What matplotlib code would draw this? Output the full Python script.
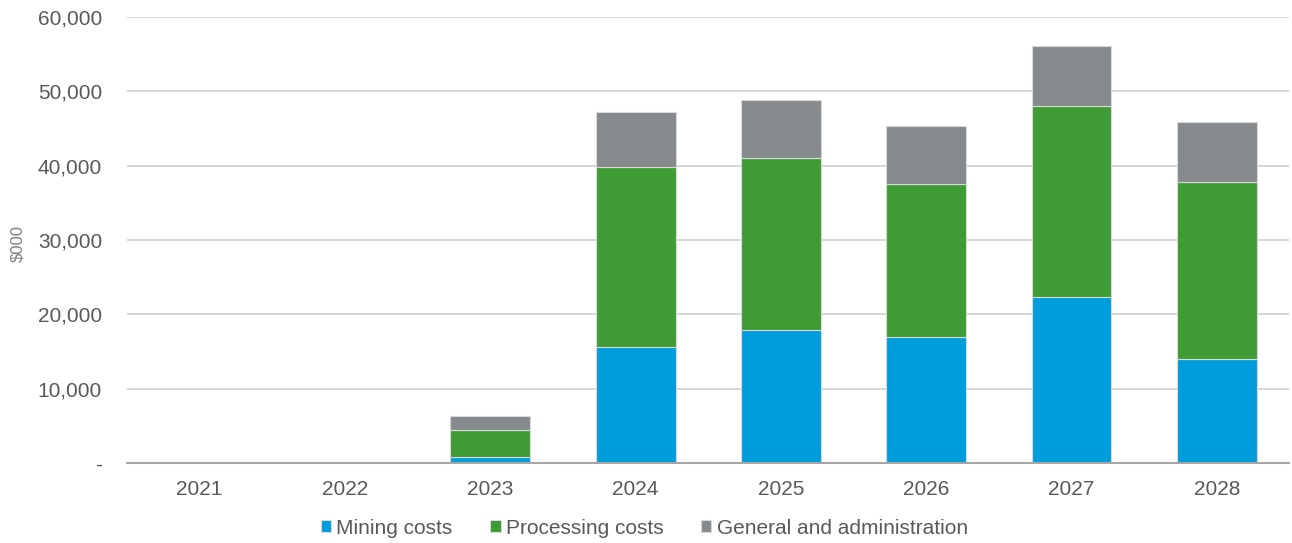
import matplotlib
matplotlib.use("Agg")
import matplotlib.pyplot as plt
from matplotlib.ticker import FuncFormatter
import numpy as np

years = ["2021", "2022", "2023", "2024", "2025", "2026", "2027", "2028"]
mining = [0, 0, 770, 15600, 17930, 16950, 22370, 13950]
processing = [0, 0, 3630, 24220, 23100, 20630, 25700, 23810]
general_admin = [0, 0, 1920, 7400, 7770, 7760, 8030, 8070]

series = [
    ("Mining costs", mining, "#009ddc"),
    ("Processing costs", processing, "#3f9c35"),
    ("General and administration", general_admin, "#878a8c"),
]

plt.rcParams["font.family"] = ["Liberation Sans", "DejaVu Sans"]
text_color = "#595959"

fig = plt.figure(figsize=(12.92, 5.43), dpi=100)
ax = fig.add_axes([0.0983, 0.1473, 0.8997, 0.8214])

x = np.arange(len(years))
bottom = np.zeros(len(years))
for label, vals, color in series:
    vals = np.array(vals, dtype=float)
    ax.bar(x, vals, 0.55, bottom=bottom, color=color, label=label,
           edgecolor="#d9d9d9", linewidth=0.8, zorder=3)
    bottom += vals

ax.set_xlim(-0.5, len(years) - 0.5)
ax.set_ylim(0, 60000)
ax.set_yticks(np.arange(0, 60001, 10000))
ax.yaxis.set_major_formatter(FuncFormatter(lambda v, p: "-" if v == 0 else f"{int(v):,}"))
ax.set_xticks(x)
ax.set_xticklabels(years)

ax.grid(axis="y", color="#d0d0d0", linewidth=1.2, zorder=0)
for s in ["left", "right", "top"]:
    ax.spines[s].set_visible(False)
ax.spines["bottom"].set_color("#a6a6a6")
ax.spines["bottom"].set_linewidth(1.5)
ax.spines["bottom"].set_zorder(4)

ax.tick_params(axis="y", length=0, pad=18, labelsize=15, labelcolor=text_color)
ax.tick_params(axis="x", length=0, pad=12.5, labelsize=15, labelcolor=text_color)

fig.text(0.014, 0.552, "$000", rotation=90, ha="center", va="center",
         fontsize=12, color="#7f7f7f")

leg = ax.legend(loc="center", bbox_to_anchor=(0.445, -0.146), ncol=3,
                frameon=False, fontsize=15, handlelength=0.5, handleheight=0.5,
                handletextpad=0.25, columnspacing=1.8, labelcolor=text_color)

fig.savefig("out.png", dpi=100)
